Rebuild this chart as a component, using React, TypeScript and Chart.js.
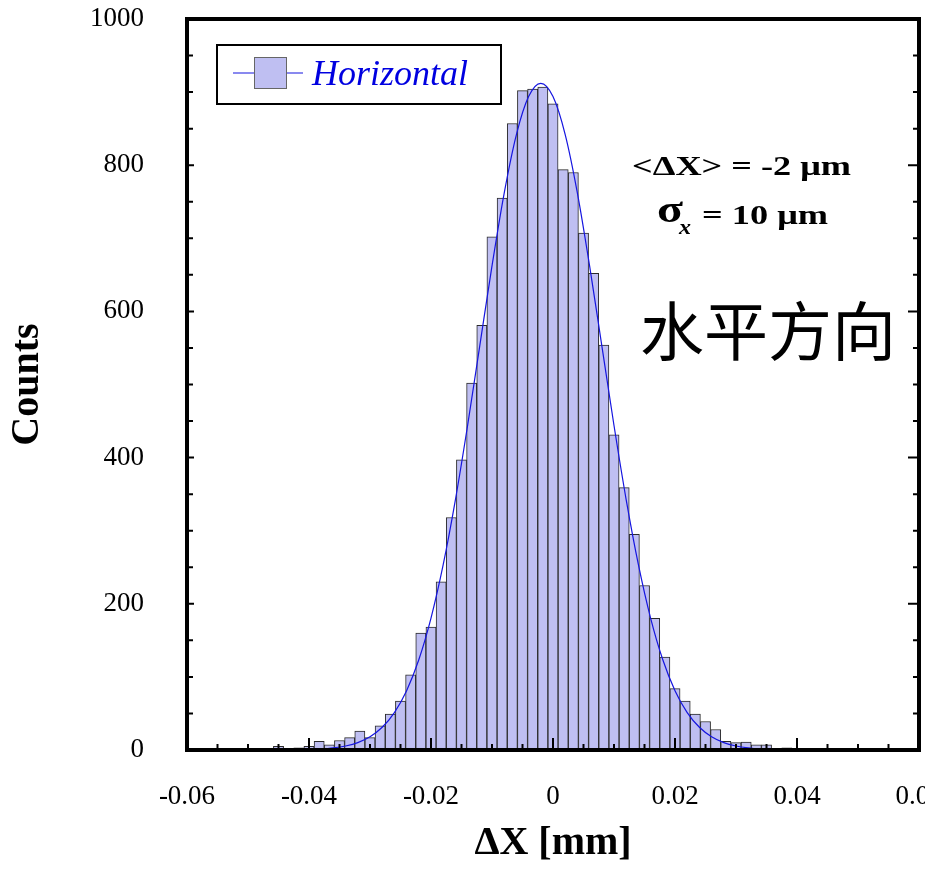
import React, { useEffect, useRef } from 'react';
import { Chart, registerables } from 'chart.js';

Chart.register(...registerables);

// Histogram bin centres (mm) and counts
const binCenters = [
  -0.046667, -0.045, -0.043333, -0.041667, -0.04, -0.038333, -0.036667, -0.035,
  -0.033333, -0.031667, -0.03, -0.028333, -0.026667, -0.025, -0.023333, -0.021667,
  -0.02, -0.018333, -0.016667, -0.015, -0.013333, -0.011667, -0.01, -0.008333,
  -0.006667, -0.005, -0.003333, -0.001667, 0, 0.001667, 0.003333, 0.005,
  0.006667, 0.008333, 0.01, 0.011667, 0.013333, 0.015, 0.016667, 0.018333,
  0.02, 0.021667, 0.023333, 0.025, 0.026667, 0.028333, 0.03, 0.031667,
  0.033333, 0.035, 0.036667, 0.038333,
];
const counts = [
  2, 5, 0, 3, 5, 12, 7, 13,
  17, 26, 17, 33, 49, 67, 103, 160,
  168, 230, 318, 397, 502, 581, 702, 755,
  857, 902, 904, 907, 884, 794, 790, 707,
  652, 554, 431, 359, 295, 225, 180, 127,
  84, 67, 49, 39, 28, 12, 10, 11,
  7, 7, 0, 3,
];

// Gaussian fit curve
const fitX = [
  -0.0374, -0.036, -0.034, -0.032, -0.03, -0.028, -0.026, -0.024, -0.022, -0.02,
  -0.018, -0.016, -0.014, -0.012, -0.01, -0.008, -0.006, -0.004, -0.002, 0,
  0.002, 0.004, 0.006, 0.008, 0.01, 0.012, 0.014, 0.016, 0.018, 0.02,
  0.022, 0.024, 0.026, 0.028, 0.03, 0.032, 0.0334,
];
const fitY = [
  1.7, 2.8, 5.5, 10.1, 18.1, 31.1, 51.2, 81.1, 123.4, 180.5,
  253.6, 342.3, 443.9, 553.2, 662.2, 761.8, 841.9, 893.9, 912, 893.9,
  841.9, 761.8, 662.2, 553.2, 443.9, 342.3, 253.6, 180.5, 123.4, 81.1,
  51.2, 31.1, 18.1, 10.1, 5.5, 2.8, 1.7,
];

const SERIES_LABEL = 'Horizontal';
const X_TITLE = 'ΔX [mm]';
const Y_TITLE = 'Counts';
const MEAN_TEXT = '<ΔX> = -2 μm';
const SIGMA_SYMBOL = 'σ';
const SIGMA_SUB = 'x';
const SIGMA_TEXT = '= 10 μm';
const CJK_TEXT = '水平方向';

const SERIF = "'Liberation Serif', 'Times New Roman', serif";
const BAR_FILL = '#BFBFF2';
const FIT_BLUE = '#1515E0';
const TEXT_BLUE = '#0000E0';

function fitText(ctx: CanvasRenderingContext2D, text: string, x: number, y: number, width: number) {
  const w = ctx.measureText(text).width;
  ctx.save();
  ctx.translate(x, y);
  ctx.scale(width / w, 1);
  ctx.fillText(text, 0, 0);
  ctx.restore();
}

const decorPlugin = {
  id: 'decor',
  afterDatasetsDraw(chart: any) {
    const { ctx, chartArea, scales } = chart;
    const { left, right, top, bottom } = chartArea;
    const xs = scales.x;
    const ys = scales.y;
    ctx.save();
    ctx.strokeStyle = '#000';
    ctx.lineWidth = 2;
    // x ticks (inward from bottom)
    for (let i = -12; i <= 12; i++) {
      const px = xs.getPixelForValue(i * 0.005);
      const len = i % 4 === 0 ? 12 : 6;
      ctx.beginPath();
      ctx.moveTo(px, bottom);
      ctx.lineTo(px, bottom - len);
      ctx.stroke();
    }
    // y ticks left and right
    for (let i = 0; i <= 20; i++) {
      const py = ys.getPixelForValue(i * 50);
      const major = i % 4 === 0;
      ctx.beginPath();
      ctx.moveTo(left, py);
      ctx.lineTo(left + (major ? 7 : 6), py);
      ctx.moveTo(right, py);
      ctx.lineTo(right - (major ? 11 : 6), py);
      ctx.stroke();
    }
    // frame
    ctx.lineWidth = 4;
    ctx.strokeRect(left, top, right - left, bottom - top);

    // legend
    const lx = left + 30;
    const ly = top + 26;
    ctx.lineWidth = 2;
    ctx.fillStyle = '#fff';
    ctx.fillRect(lx, ly, 284, 59);
    ctx.strokeRect(lx, ly, 284, 59);
    ctx.strokeStyle = FIT_BLUE;
    ctx.lineWidth = 1.2;
    ctx.beginPath();
    ctx.moveTo(lx + 16, ly + 28);
    ctx.lineTo(lx + 86, ly + 28);
    ctx.stroke();
    ctx.fillStyle = BAR_FILL;
    ctx.fillRect(lx + 37, ly + 12, 33, 32);
    ctx.strokeStyle = '#666';
    ctx.lineWidth = 1;
    ctx.strokeRect(lx + 37.5, ly + 12.5, 32, 31);
    ctx.fillStyle = TEXT_BLUE;
    ctx.font = `italic 36px ${SERIF}`;
    ctx.textAlign = 'left';
    ctx.textBaseline = 'alphabetic';
    ctx.fillText(chart.data.datasets[0].label, lx + 95, ly + 40);

    // annotations
    ctx.fillStyle = '#000';
    ctx.font = `bold 28px ${SERIF}`;
    fitText(ctx, MEAN_TEXT, 632, 175, 219);
    ctx.font = `bold 38px ${SERIF}`;
    fitText(ctx, SIGMA_SYMBOL, 657, 222, 26);
    ctx.font = `italic bold 22px ${SERIF}`;
    fitText(ctx, SIGMA_SUB, 679, 234, 12);
    ctx.font = `bold 28px ${SERIF}`;
    fitText(ctx, SIGMA_TEXT, 702, 224, 126);

    ctx.font = `64px 'Noto Sans CJK SC', 'Noto Sans CJK JP', sans-serif`;
    ctx.textBaseline = 'middle';
    ctx.fillText(CJK_TEXT, 640, 331);
    ctx.restore();
  },
};

export default function App() {
  const ref = useRef<HTMLCanvasElement | null>(null);
  useEffect(() => {
    const canvas = ref.current;
    if (!canvas) return;
    const chart = new Chart(canvas, {
      type: 'bar',
      data: {
        datasets: [
          {
            type: 'bar',
            label: SERIES_LABEL,
            data: binCenters.map((x, i) => ({ x, y: counts[i] })),
            backgroundColor: BAR_FILL,
            borderColor: '#2a2a2a',
            borderWidth: 1,
            borderSkipped: 'start',
            barPercentage: 1,
            categoryPercentage: 1,
            order: 2,
          } as any,
          {
            type: 'line',
            label: 'Gauss fit',
            data: fitX.map((x, i) => ({ x, y: fitY[i] })),
            borderColor: FIT_BLUE,
            borderWidth: 1.2,
            pointRadius: 0,
            cubicInterpolationMode: 'monotone',
            fill: false,
            order: 1,
          } as any,
        ],
      },
      options: {
        animation: false,
        responsive: false,
        maintainAspectRatio: false,
        layout: { padding: { left: 0, top: 19, right: 6, bottom: 0 } },
        plugins: { legend: { display: false }, tooltip: { enabled: false } },
        scales: {
          x: {
            type: 'linear',
            min: -0.06,
            max: 0.06,
            offset: false,
            grid: { display: false, drawTicks: false },
            border: { display: false },
            ticks: {
              stepSize: 0.02,
              padding: 31,
              autoSkip: false,
              maxRotation: 0,
              color: '#000',
              font: { family: SERIF, size: 27 },
              callback: (v: any) => (Math.abs(v) < 1e-9 ? '0' : Number(v).toFixed(2)),
            },
            title: {
              display: true,
              text: X_TITLE,
              color: '#000',
              font: { family: SERIF, size: 40, weight: 'bold' },
              padding: { top: 0, bottom: 8 },
            },
            afterFit: (s: any) => {
              s.height = 126;
              s.paddingLeft = 0;
              s.paddingRight = 0;
            },
          },
          y: {
            type: 'linear',
            min: 0,
            max: 1000,
            grid: { display: false, drawTicks: false },
            border: { display: false },
            ticks: {
              stepSize: 200,
              padding: 43,
              color: '#000',
              font: { family: SERIF, size: 27 },
              callback: (v: any) => String(Math.round(Number(v))),
            },
            title: {
              display: true,
              text: Y_TITLE,
              color: '#000',
              font: { family: SERIF, size: 40, weight: 'bold' },
              padding: { top: 3.5, bottom: 0 },
            },
            afterFit: (s: any) => {
              s.width = 187;
              s.paddingTop = 0;
              s.paddingBottom = 0;
            },
          },
        },
      } as any,
      plugins: [decorPlugin],
    });
    return () => chart.destroy();
  }, []);

  return (
    <div style={{ position: 'fixed', left: 0, top: 0, width: 925, height: 876, background: '#fff' }}>
      <canvas ref={ref} width={925} height={876} style={{ display: 'block', width: 925, height: 876 }} />
    </div>
  );
}
